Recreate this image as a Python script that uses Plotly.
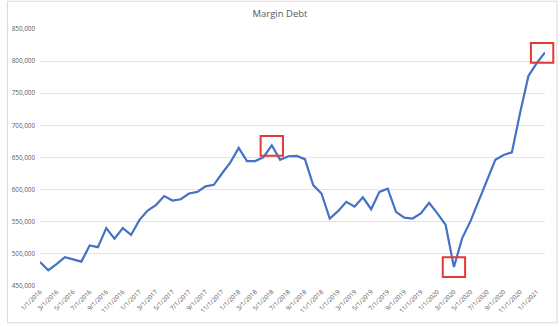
import plotly.graph_objects as go

# Monthly margin debt, Jan 2016 – Feb 2021
months = [f"{m}/1/{y}" for y in range(2016, 2022) for m in range(1, 13)][:62]
margin_debt = [
    487400, 474500, 484000, 495000, 491500, 488000, 513000, 510500, 540000, 523500, 540000, 529500,
    552500, 567500, 576000, 590000, 583000, 585000, 594000, 596500, 605000, 607500, 625500, 642500,
    665000, 644500, 644500, 650500, 669000, 646500, 652000, 652500, 647500, 607000, 594000, 555000,
    566500, 581000, 573500, 588000, 569500, 596500, 601500, 565500, 556500, 555000, 563000, 579500,
    563000, 545000, 479500, 524500, 551000, 583000, 615000, 646500, 654000, 658000, 720000, 777000,
    797000, 813500,
]
y_ticks = [450000, 500000, 550000, 600000, 650000, 700000, 750000, 800000, 850000]
y_min, y_max = 450000, 850000
# Highlighted months (index into months) and box centres
highlights = [(28, 668000), (50, 479300), (60.65, 813000)]

x_idx = list(range(len(months)))
tick_idx = x_idx[::2]
x_max = len(months) - 1

fig = go.Figure()
fig.add_trace(go.Scatter(
    x=x_idx, y=margin_debt, mode="lines",
    line=dict(color="#4472C4", width=2.2),
    hoverinfo="skip", showlegend=False,
))


def to_px(ix):
    return ix / x_max


def to_py(v):
    return (v - y_min) / (y_max - y_min)


shapes = []
for cx, cy in highlights:
    # paper-referenced so the boxes may extend past the plot edge
    shapes.append(dict(
        type="rect", xref="paper", yref="paper",
        x0=to_px(cx - 1.35), x1=to_px(cx + 1.35),
        y0=to_py(cy - 15400), y1=to_py(cy + 15400),
        line=dict(color="#E53935", width=2), fillcolor="rgba(0,0,0,0)",
    ))
# Outer chart frame
shapes.append(dict(
    type="rect", xref="paper", yref="paper",
    x0=-0.0646, x1=1.0235, y0=-0.1429, y1=1.108,
    line=dict(color="#D9D9D9", width=1), layer="below",
))

fig.update_layout(
    width=560, height=327,
    margin=dict(l=34, r=15, t=29, b=39),
    paper_bgcolor="white", plot_bgcolor="white",
    title=dict(text="Margin Debt", x=0.5, xanchor="center", y=0.958, yanchor="middle",
               font=dict(family="Open Sans", size=9.5, color="#595959")),
    xaxis=dict(
        range=[0, x_max], tickvals=tick_idx,
        ticktext=[months[i] for i in tick_idx], tickangle=-45,
        tickfont=dict(family="Open Sans", size=6.3, color="#595959"),
        showgrid=False, zeroline=False, showline=False, ticks="",
    ),
    yaxis=dict(
        range=[y_min, y_max], tickvals=y_ticks, tickformat=",",
        tickfont=dict(family="Open Sans", size=6.3, color="#595959"),
        showgrid=True, gridcolor="#E3E3E3", gridwidth=1,
        zeroline=False, showline=False, ticks="", ticklabelstandoff=4,
    ),
    shapes=shapes,
)

fig.write_html("out.html")
